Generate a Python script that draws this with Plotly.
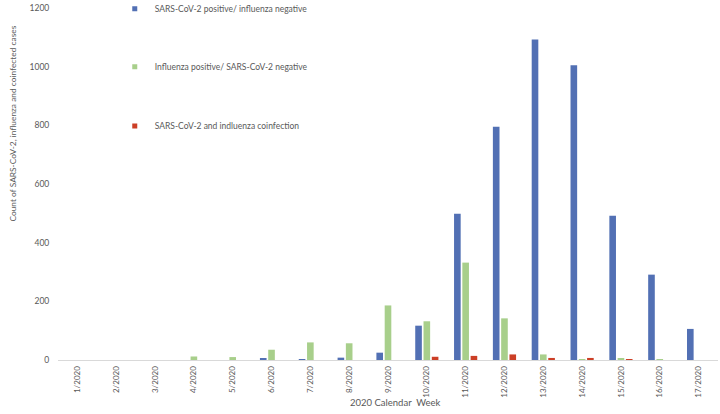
import plotly.graph_objects as go

weeks = [f"{w}/2020" for w in range(1, 18)]

sars_pos = [0, 0, 0, 0, 0, 5, 2, 8, 25, 117, 499, 795, 1093, 1005, 492, 291, 106]
flu_pos = [0, 0, 0, 12, 10, 35, 60, 57, 186, 132, 332, 142, 19, 3, 4, 1, 0]
coinf = [0, 0, 0, 0, 0, 0, 0, 0, 0, 11, 14, 19, 7, 7, 1, 0, 0]

names = [
    "SARS-CoV-2 positive/ influenza negative",
    "Influenza positive/ SARS-CoV-2 negative",
    "SARS-CoV-2 and indluenza coinfection",
]
colors = ["#5270b4", "#a8cf8b", "#cc3f26"]
series = [sars_pos, flu_pos, coinf]

FONT = "Lato, Open Sans, sans-serif"
GREY = "#595959"

fig = go.Figure()
for i, (name, vals, col) in enumerate(zip(names, series, colors)):
    fig.add_bar(x=weeks, y=vals, name=name, marker_color=col,
                marker_line_width=0, showlegend=False)
    # small square legend marker, like the original
    fig.add_scatter(x=[None], y=[None], mode="markers", name=name,
                    marker=dict(symbol="square", size=5, color=col),
                    legend="legend" if i == 0 else f"legend{i + 1}")

leg = dict(x=0.086, xanchor="left", yanchor="middle", bgcolor="rgba(0,0,0,0)",
           font=dict(family=FONT, size=8.5, color=GREY), itemwidth=30)

fig.update_layout(
    width=720, height=414,
    margin=dict(l=58, r=2, t=8, b=54, autoexpand=False),
    paper_bgcolor="white", plot_bgcolor="white",
    barmode="group", bargap=0.36, bargroupgap=0.2,
    font=dict(family=FONT, size=8.5, color=GREY),
    legend=dict(leg, y=0.998),
    legend2=dict(leg, y=0.833),
    legend3=dict(leg, y=0.665),
    xaxis=dict(
        tickangle=-90, showline=True, linecolor="#d9d9d9", linewidth=1,
        ticks="outside", ticklen=2, tickcolor="rgba(0,0,0,0)", showgrid=False,
        tickfont=dict(size=8, color=GREY), automargin=False,
    ),
    yaxis=dict(
        range=[0, 1200], dtick=200, showgrid=False, zeroline=False,
        showline=False, ticks="outside", ticklen=6, tickcolor="rgba(0,0,0,0)",
        tickfont=dict(size=8.5, color=GREY), automargin=False,
    ),
    annotations=[
        dict(text="Count of SARS-CoV-2, influenza and coinfected cases",
             xref="paper", yref="paper", x=-0.068, y=0.672, textangle=-90,
             showarrow=False, xanchor="center", yanchor="middle",
             font=dict(size=8.4, color=GREY)),
        dict(text="2020 Calendar\u00a0 Week",
             xref="paper", yref="paper", x=0.511, y=-0.122,
             showarrow=False, xanchor="center", yanchor="middle",
             font=dict(size=9.5, color=GREY)),
    ],
)

# drop the page's default body margin so the chart sits at the window corner
fig.write_html("out.html", config={"displayModeBar": False},
               post_script="document.body.style.margin = '0';")
